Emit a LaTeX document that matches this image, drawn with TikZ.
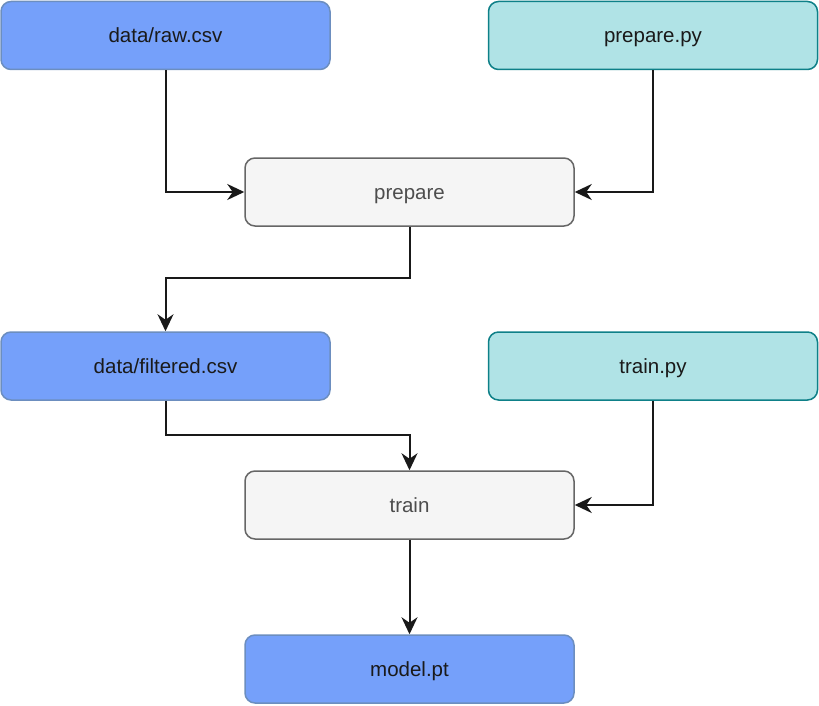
\documentclass[tikz,border=0pt]{standalone}
\usepackage{fontspec}
\setmainfont{Liberation Sans}
\usetikzlibrary{arrows.meta}
\definecolor{bluefill}{HTML}{75A0FA}
\definecolor{blueline}{HTML}{6C8EBF}
\definecolor{tealfill}{HTML}{B0E3E6}
\definecolor{tealline}{HTML}{0E8088}
\definecolor{grayfill}{HTML}{F5F5F5}
\definecolor{grayline}{HTML}{666666}
\definecolor{graytext}{HTML}{4D4D4D}
\definecolor{darktext}{HTML}{1A1A1A}
\tikzset{
  box/.style={rectangle, rounded corners=10pt, minimum width=329pt, minimum height=68pt, line width=1.5pt, font=\fontsize{20.5}{24}\selectfont, inner sep=0pt, text height=20pt, text depth=5pt},
  datafile/.style={box, fill=bluefill, draw=blueline, text=darktext},
  script/.style={box, fill=tealfill, draw=tealline, text=darktext},
  stage/.style={box, fill=grayfill, draw=grayline, text=graytext},
  conn/.style={line width=2pt, draw=black!90, -{Stealth[length=17pt, width=16pt, inset=5.5pt]}},
}
\begin{document}
\begin{tikzpicture}[x=1pt, y=-1pt]
\useasboundingbox (0,0) rectangle (819,706);
\node[datafile] (raw) at (165.5,35.5) {data/raw.csv};
\node[script] (preppy) at (653,35.5) {prepare.py};
\node[stage] (prep) at (409.5,192) {prepare};
\node[datafile] (filt) at (165.5,366) {data/filtered.csv};
\node[script] (trainpy) at (653,366) {train.py};
\node[stage] (train) at (409.5,505) {train};
\node[datafile] (model) at (409.5,669) {model.pt};
\draw[conn] (raw.south) |- (prep.west);
\draw[conn] (preppy.south) |- (prep.east);
\draw[conn] (prep.south) -- ++(0,51) -| (filt.north);
\draw[conn] (filt.south) -- ++(0,34) -| (train.north);
\draw[conn] (trainpy.south) |- (train.east);
\draw[conn] (train.south) -- (model.north);
\end{tikzpicture}
\end{document}
